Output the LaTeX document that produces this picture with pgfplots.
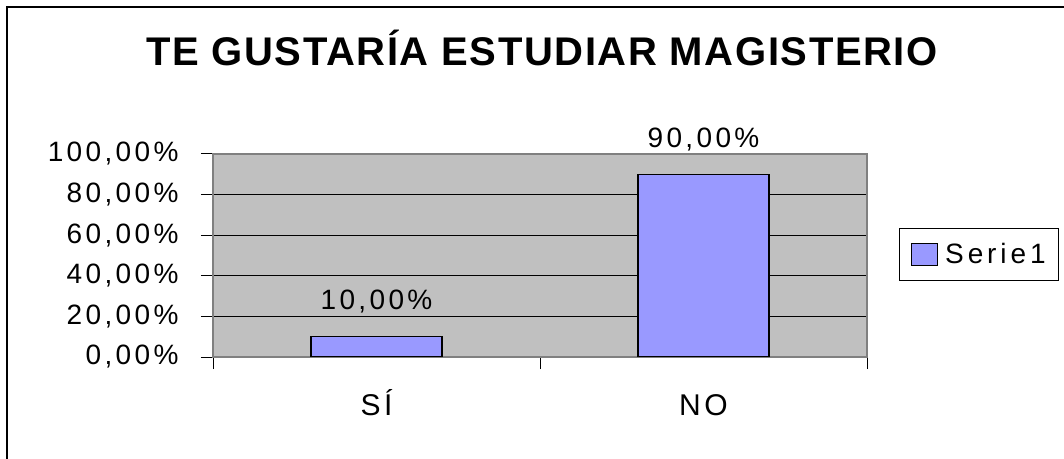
\documentclass[border=0pt]{standalone}
\usepackage{fontspec}
\setmainfont{Liberation Sans}
\newfontfamily\lsp[LetterSpace=12]{Liberation Sans}
\newfontfamily\lgsp[LetterSpace=14]{Liberation Sans}
\newfontfamily\tsp[LetterSpace=4]{Liberation Sans}
\usepackage{pgfplots}
\pgfplotsset{compat=1.18}
\definecolor{barblue}{HTML}{9999FF}
\definecolor{plotgray}{HTML}{C0C0C0}
\definecolor{bordergray}{HTML}{808080}
\begin{document}
\begin{tikzpicture}
\useasboundingbox (0,0) rectangle (1064bp,459bp);
\clip (0,0) rectangle (1064bp,459bp);
\fill[white] (0,0) rectangle (1064bp,459bp);
\draw[black, line width=1.2bp] (7bp,-10bp) rectangle (1080bp,452bp);
\node[anchor=base, inner sep=0pt, font=\tsp\bfseries\fontsize{40bp}{40bp}\selectfont] at (542bp,393bp) {TE GUSTARÍA ESTUDIAR MAGISTERIO};
\begin{axis}[
  at={(213bp,102bp)}, anchor=south west,
  scale only axis, width=654bp, height=203bp,
  xmin=-0.5, xmax=1.5, ymin=0, ymax=100,
  axis background/.style={fill=plotgray},
  axis line style={draw=bordergray, line width=1.2bp},
  ybar, bar width=131bp,
  xtick={-0.5,0.5,1.5}, xticklabels={},
  extra x ticks={0,1}, extra x tick labels={SÍ,NO},
  extra x tick style={major tick length=0pt, xmajorgrids=false,
     xticklabel style={anchor=base, yshift=-58bp, font=\lsp\fontsize{30bp}{30bp}\selectfont}},
  ytick={0,20,40,60,80,100},
  yticklabels={{0,00\%},{20,00\%},{40,00\%},{60,00\%},{80,00\%},{100,00\%}},
  yticklabel style={xshift=-19bp, font=\lsp\fontsize{28bp}{28bp}\selectfont},
  tick align=outside, major tick length=12bp,
  tick style={draw=black, line width=1bp},
  xtick pos=bottom, ytick pos=left,
  ymajorgrids=true, xmajorgrids=false,
  major grid style={draw=black, line width=1bp},
  point meta=explicit symbolic,
  nodes near coords,
  every node near coord/.append style={anchor=base, yshift=27bp, inner sep=0pt, font=\lsp\fontsize{28bp}{28bp}\selectfont, text=black},
  legend image code/.code={\draw[#1] (0bp,-11bp) rectangle (26bp,11bp); \node[inner sep=0pt, minimum size=0pt] at (32bp,0bp) {};},
  legend style={at={(rel axis cs:1.049,0.635)}, anchor=north west, draw=black, line width=1bp, fill=white,
     font=\lgsp\fontsize{28bp}{28bp}\selectfont, inner xsep=11bp, inner ysep=13bp},
]
\addplot[draw=black, fill=barblue, line width=1.3bp] coordinates {(0,10) [10,00\%] (1,90) [90,00\%]};
\addlegendentry{Serie1}
\end{axis}
\end{tikzpicture}
\end{document}
